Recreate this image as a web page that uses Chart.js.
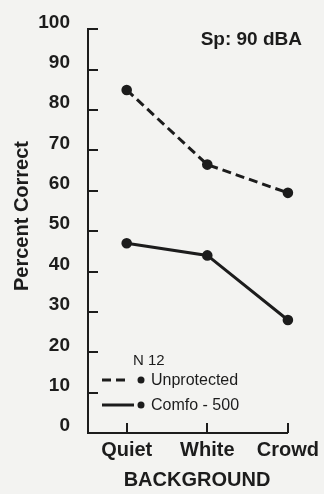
<!DOCTYPE html>
<html>
<head>
<meta charset="utf-8">
<script src="https://cdn.jsdelivr.net/npm/chart.js@4/dist/chart.umd.min.js"></script>
<style>
  html, body { margin: 0; padding: 0; background: #f3f3f1; }
  canvas { display: block; }
</style>
</head>
<body>
<canvas id="chart" width="324" height="494"></canvas>
<script>
const categories = ['Quiet', 'White', 'Crowd'];
const unprotected = [85, 66.5, 59.5];
const comfo500 = [47, 44, 28];
const yTicks = [0, 10, 20, 30, 40, 50, 60, 70, 80, 90, 100];

const ink = '#1c1c1c';
const bold = (size) => ({ family: '"Liberation Sans", Arial, sans-serif', size: size, weight: 'bold' });

// inward tick marks, titles and the hand-drawn legend
const overlay = {
    id: 'overlay',
    afterDraw(chart) {
        const ctx = chart.ctx;
        const area = chart.chartArea;
        const x = chart.scales.x;
        const y = chart.scales.y;
        ctx.save();
        ctx.strokeStyle = ink;
        ctx.lineWidth = 2;
        y.ticks.forEach(t => {
            const py = Math.round(y.getPixelForValue(t.value));
            ctx.beginPath();
            ctx.moveTo(area.left, py);
            ctx.lineTo(area.left + 10, py);
            ctx.stroke();
        });
        x.ticks.forEach(t => {
            const px = Math.round(x.getPixelForValue(t.value));
            ctx.beginPath();
            ctx.moveTo(px, area.bottom);
            ctx.lineTo(px, area.bottom - 10);
            ctx.stroke();
        });

        ctx.fillStyle = ink;
        ctx.font = 'bold 20px "Liberation Sans", Arial, sans-serif';
        ctx.textBaseline = 'middle';
        ctx.textAlign = 'center';
        ctx.fillText('BACKGROUND', 197, 480);

        ctx.save();
        ctx.translate(22, 216);
        ctx.rotate(-Math.PI / 2);
        ctx.fillText('Percent Correct', 0, 0);
        ctx.restore();

        ctx.font = 'bold 19px "Liberation Sans", Arial, sans-serif';
        ctx.textAlign = 'right';
        ctx.fillText('Sp: 90 dBA', 302, 40);

        ctx.textAlign = 'left';
        ctx.font = '15px "Liberation Sans", Arial, sans-serif';
        ctx.fillText('N 12', 133, 361);

        ctx.font = '16px "Liberation Sans", Arial, sans-serif';
        chart.data.datasets.forEach((ds, i) => {
            const ly = 380 + i * 25;
            ctx.setLineDash(ds.borderDash || []);
            ctx.lineWidth = ds.borderWidth;
            ctx.beginPath();
            ctx.moveTo(102, ly);
            ctx.lineTo(i === 0 ? 125 : 134, ly);
            ctx.stroke();
            ctx.setLineDash([]);
            ctx.beginPath();
            ctx.arc(141, ly, 3.5, 0, Math.PI * 2);
            ctx.fill();
            ctx.fillText(ds.label, 151, ly + 1);
        });
        ctx.restore();
    }
};

new Chart(document.getElementById('chart'), {
    type: 'line',
    data: {
        datasets: [{
            label: 'Unprotected',
            data: categories.map((c, i) => ({ x: i, y: unprotected[i] })),
            borderColor: ink,
            backgroundColor: ink,
            borderWidth: 3,
            borderDash: [9, 5],
            pointRadius: 3.8,
            clip: false
        }, {
            label: 'Comfo - 500',
            data: categories.map((c, i) => ({ x: i, y: comfo500[i] })),
            borderColor: ink,
            backgroundColor: ink,
            borderWidth: 3,
            pointRadius: 3.8,
            clip: false
        }]
    },
    options: {
        responsive: false,
        animation: false,
        layout: { padding: { left: 0, top: 24, right: 33, bottom: 0 } },
        plugins: { legend: { display: false }, tooltip: { enabled: false } },
        scales: {
            x: {
                type: 'linear',
                min: -0.48,
                max: 2,
                afterBuildTicks: (scale) => { scale.ticks = categories.map((c, i) => ({ value: i })); },
                afterFit: (scale) => { scale.height = 61; },
                grid: { display: false, drawTicks: false },
                border: { display: true, color: ink, width: 2 },
                ticks: {
                    autoSkip: false,
                    maxRotation: 0,
                    padding: 5,
                    color: ink,
                    font: bold(20),
                    callback: (v) => categories[v]
                }
            },
            y: {
                min: 0,
                max: 100,
                afterBuildTicks: (scale) => { scale.ticks = yTicks.map(v => ({ value: v })); },
                afterFit: (scale) => { scale.width = 88; },
                grid: { display: false, drawTicks: false },
                border: { display: true, color: ink, width: 2 },
                ticks: {
                    autoSkip: false,
                    padding: 18,
                    labelOffset: -7,
                    color: ink,
                    font: bold(19)
                }
            }
        }
    },
    plugins: [overlay]
});
</script>
</body>
</html>
